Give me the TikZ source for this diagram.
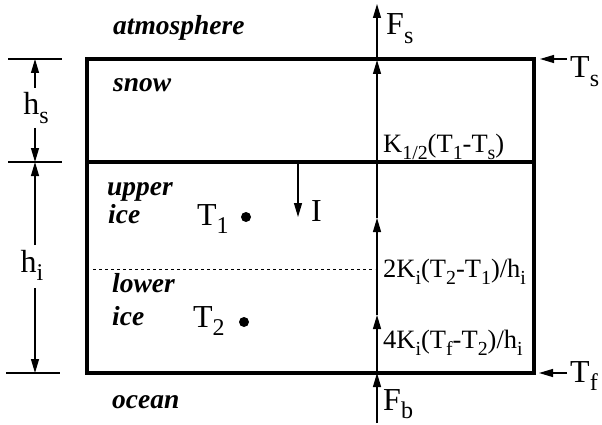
\documentclass[tikz,border=0pt]{standalone}
\usepackage{fontspec}
\setmainfont{Liberation Serif}
\usepackage{graphicx}
\usetikzlibrary{arrows.meta}
\newcommand\lsub[1]{\raisebox{-0.27em}{\scalebox{0.75}{#1}}}
\begin{document}
\begin{tikzpicture}[x=1pt,y=-1pt,
  box/.style={line width=4pt},
  thinline/.style={line width=1.2pt},
  tip/.style={-{Triangle[length=14pt,width=8pt]}},
  big/.style={font=\fontsize{32}{34}\selectfont, inner sep=0pt, anchor=base west},
  lab/.style={font=\fontsize{26.5}{28}\selectfont, inner sep=0pt, anchor=base west},
  region/.style={font=\fontsize{27.5}{28}\selectfont\bfseries\itshape, inner sep=0pt, anchor=base west},
  dim/.style={font=\fontsize{32}{34}\selectfont, inner sep=0pt, anchor=base},
]
\useasboundingbox (0,0) rectangle (602,425);
% box
\coordinate (tl) at (87,59);
\coordinate (br) at (534,373);
\coordinate (ml) at (87,162);
\coordinate (mr) at (534,162);
\draw[box] (tl) rectangle (br);
\draw[box] (ml) -- (mr);
% dashed divider
\coordinate (dl) at (93,269);
\coordinate (dr) at (375,269);
\draw[line width=1pt, dash pattern=on 3pt off 3pt] (dl) -- (dr);
% vertical flux line
\coordinate (v0) at (377,423);
\coordinate (v1) at (377,373);
\coordinate (v2) at (377,315);
\coordinate (v3) at (377,218);
\coordinate (v4) at (377,60);
\coordinate (v5) at (377,4);
\draw[thinline,tip] (v0) -- (v1);
\draw[thinline,tip] (v1) -- (v2);
\draw[thinline,tip] (v2) -- (v3);
\draw[thinline,tip] (v3) -- (v4);
\draw[thinline,tip] (v4) -- (v5);
% I arrow
\coordinate (i0) at (298,164);
\coordinate (i1) at (298,217);
\draw[thinline,tip] (i0) -- (i1);
% Ts / Tf arrows
\coordinate (ts0) at (567,59);
\coordinate (ts1) at (540,59);
\coordinate (tf0) at (567,373);
\coordinate (tf1) at (539,373);
\draw[thinline,tip] (ts0) -- (ts1);
\draw[thinline,tip] (tf0) -- (tf1);
% left dimensions
\coordinate (k1a) at (8,59);  \coordinate (k1b) at (62,59);
\coordinate (k2a) at (8,162); \coordinate (k2b) at (62,162);
\coordinate (k3a) at (6,373); \coordinate (k3b) at (60,373);
\draw[thinline] (k1a) -- (k1b);
\draw[thinline] (k2a) -- (k2b);
\draw[thinline] (k3a) -- (k3b);
\coordinate (hs0) at (35,88);  \coordinate (hs1) at (35,59);
\coordinate (hs2) at (35,128); \coordinate (hs3) at (35,162);
\coordinate (hi0) at (35,245); \coordinate (hi1) at (35,162);
\coordinate (hi2) at (35,288); \coordinate (hi3) at (35,373);
\draw[thinline,tip] (hs0) -- (hs1);
\draw[thinline,tip] (hs2) -- (hs3);
\draw[thinline,tip] (hi0) -- (hi1);
\draw[thinline,tip] (hi2) -- (hi3);
\node[dim] (hs) at (36,115) {h\lsub{s}};
\node[dim] (hi) at (32,272) {h\lsub{i}};
% dots
\fill (246,217) circle (5);
\fill (244,322) circle (5);
% region labels
\node[region] (atm) at (113,35) {atmosphere};
\node[region] (snow) at (113,92) {snow};
\node[region] (upper) at (107,195) {upper};
\node[region] (uice) at (108,223) {ice};
\node[region] (lower) at (112,292) {lower};
\node[region] (lice) at (112,325) {ice};
\node[region] (ocean) at (112,408) {ocean};
% big labels
\node[big] (T1) at (197,225) {T\lsub{1}};
\node[big] (T2) at (193,327) {T\lsub{2}};
\node[big] (I) at (311,221) {I};
\node[big] (Fs) at (386,35) {F\lsub{s}};
\node[big] (Fb) at (383,410) {F\lsub{b}};
\node[big] (Ts) at (570,78) {T\lsub{s}};
\node[big] (Tf) at (570,382) {T\lsub{f}};
% flux labels
\node[lab] (k12) at (383,152) {K\lsub{1/2}(T\lsub{1}-T\lsub{s})};
\node[lab] (k2) at (383,277) {2K\lsub{i}(T\lsub{2}-T\lsub{1})/h\lsub{i}};
\node[lab] (k4) at (383,348) {4K\lsub{i}(T\lsub{f}-T\lsub{2})/h\lsub{i}};
\end{tikzpicture}
\end{document}
